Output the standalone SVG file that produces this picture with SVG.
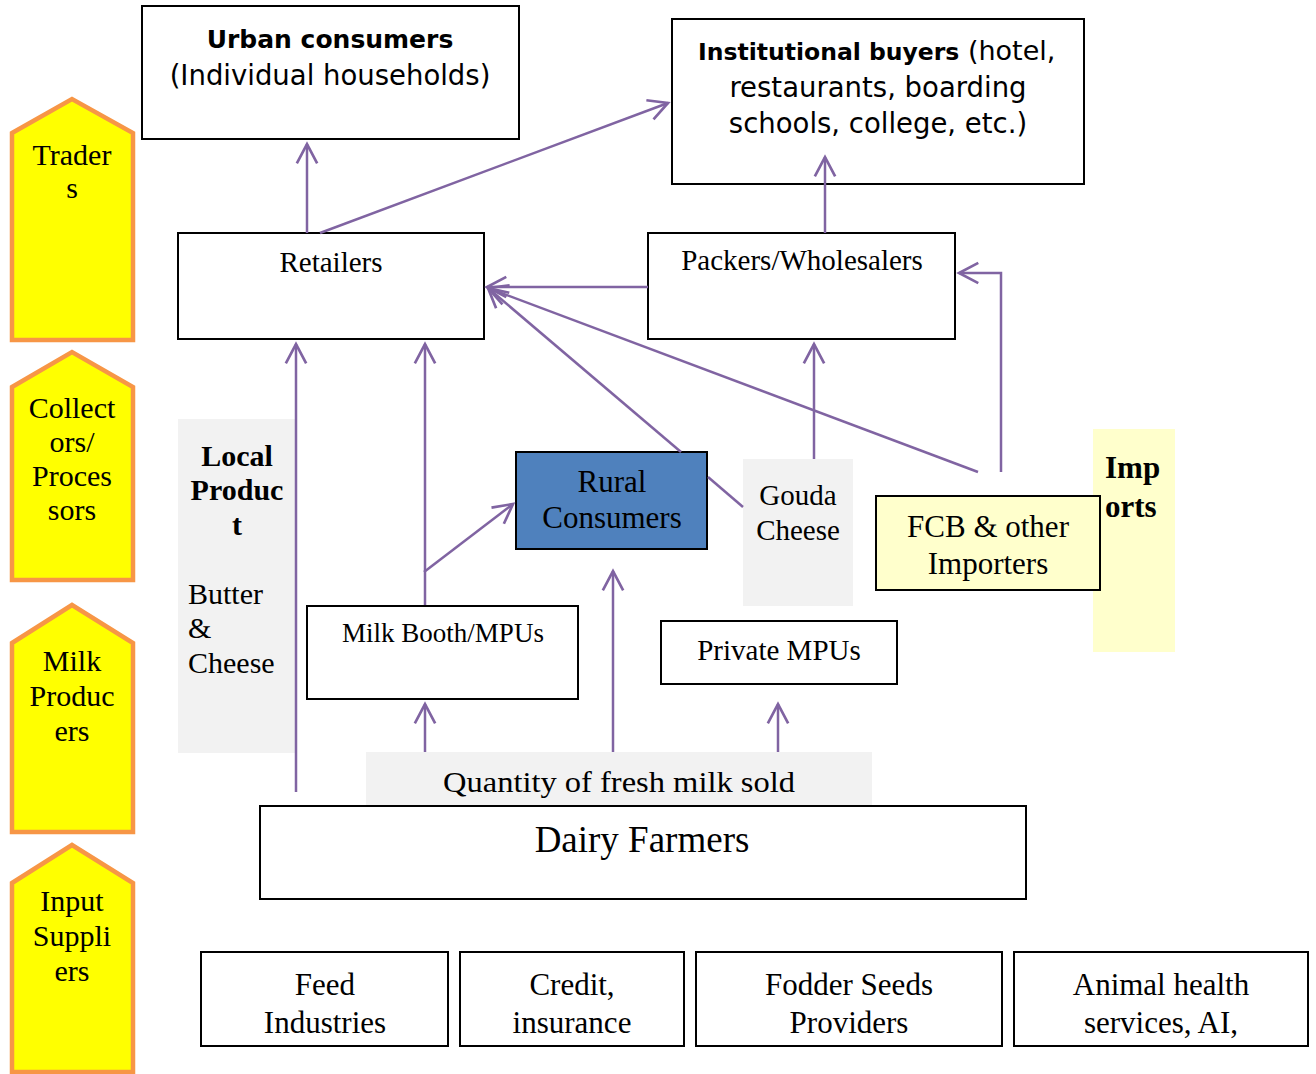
<svg xmlns="http://www.w3.org/2000/svg" width="1316" height="1074" viewBox="0 0 1316 1074">
<style>
.box{fill:#fff;stroke:#000;stroke-width:2}
.pent{fill:#ffff00;stroke:#f79646;stroke-width:4.5}
.gray{fill:#f2f2f2}
.ser{font-family:"Liberation Serif","Times New Roman",serif;fill:#000}
.san{font-family:"DejaVu Sans","Liberation Sans",sans-serif;fill:#000}
.c{text-anchor:middle}
.b{font-weight:bold}
.con{fill:none;stroke:#8064a2;stroke-width:2.5}
</style>
<defs>
<marker id="arr" markerUnits="userSpaceOnUse" markerWidth="30" markerHeight="30" viewBox="-22 -14 26 28" refX="0" refY="0" orient="auto" overflow="visible">
<path d="M-18,-9.5 L0,0 L-18,9.5" fill="none" stroke="#8064a2" stroke-width="2.5"/>
</marker>
</defs>

<g id="level-traders">
<polygon class="pent" points="12,133 72,99 133,133 133,340 12,340"/>
<text class="ser c" font-size="30" x="72"><tspan x="72" y="165">Trader</tspan><tspan x="72" y="198">s</tspan></text>
</g>
<g id="level-collectors">
<polygon class="pent" points="12,387 72,352 133,387 133,580 12,580"/>
<text class="ser c" font-size="30" x="72"><tspan x="72" y="418">Collect</tspan><tspan x="72" y="452">ors/</tspan><tspan x="72" y="486">Proces</tspan><tspan x="72" y="520">sors</tspan></text>
</g>
<g id="level-producers">
<polygon class="pent" points="12,643 72,605 133,643 133,832 12,832"/>
<text class="ser c" font-size="30" x="72"><tspan x="72" y="671">Milk</tspan><tspan x="72" y="706">Produc</tspan><tspan x="72" y="741">ers</tspan></text>
</g>
<g id="level-inputs">
<polygon class="pent" points="12,883 72,845 133,883 133,1072 12,1072"/>
<text class="ser c" font-size="30" x="72"><tspan x="72" y="911">Input</tspan><tspan x="72" y="946">Suppli</tspan><tspan x="72" y="981">ers</tspan></text>
</g>

<g id="local-product">
<rect class="gray" x="178" y="419" width="118" height="334"/>
<text class="ser c b" font-size="30"><tspan x="237" y="466">Local</tspan><tspan x="237" y="500">Produc</tspan><tspan x="237" y="535">t</tspan></text>
<text class="ser" font-size="30"><tspan x="188" y="604">Butter</tspan><tspan x="188" y="638">&amp;</tspan><tspan x="188" y="673">Cheese</tspan></text>
</g>

<g id="imports-band">
<rect x="1093" y="429" width="82" height="223" fill="#ffffcc"/>
<text class="ser b" font-size="31"><tspan x="1105" y="478">Imp</tspan><tspan x="1105" y="517">orts</tspan></text>
</g>

<g id="gouda">
<rect class="gray" x="743" y="459" width="110" height="147"/>
<text class="ser c" font-size="29"><tspan x="798" y="505">Gouda</tspan><tspan x="798" y="540">Cheese</tspan></text>
</g>

<g id="quantity">
<rect class="gray" x="366" y="752" width="506" height="54"/>
<text class="ser c" font-size="30" x="619" y="792" textLength="352" lengthAdjust="spacingAndGlyphs">Quantity of fresh milk sold</text>
</g>

<g id="urban-consumers">
<rect class="box" x="142" y="6" width="377" height="133"/>
<text class="san c b" font-size="25" x="330" y="48">Urban consumers</text>
<text class="san c" font-size="27.5" x="330" y="85">(Individual households)</text>
</g>

<g id="institutional-buyers">
<rect class="box" x="672" y="19" width="412" height="165"/>
<text class="san" y="60" x="698"><tspan font-weight="bold" font-size="23.5">Institutional buyers</tspan><tspan font-size="27"> (hotel,</tspan></text>
<text class="san c" font-size="27.5"><tspan x="878" y="97">restaurants, boarding</tspan><tspan x="878" y="133">schools, college, etc.)</tspan></text>
</g>

<g id="retailers">
<rect class="box" x="178" y="233" width="306" height="106"/>
<text class="ser c" font-size="29" x="331" y="272">Retailers</text>
</g>

<g id="packers">
<rect class="box" x="648" y="233" width="307" height="106"/>
<text class="ser c" font-size="29" x="802" y="270">Packers/Wholesalers</text>
</g>

<g id="rural-consumers">
<rect x="516" y="452" width="191" height="97" fill="#4f81bd" stroke="#000" stroke-width="2"/>
<text class="ser c" font-size="31"><tspan x="612" y="492">Rural</tspan><tspan x="612" y="528">Consumers</tspan></text>
</g>

<g id="fcb-importers">
<rect x="876" y="496" width="224" height="94" fill="#ffffcc" stroke="#000" stroke-width="2"/>
<text class="ser c" font-size="31"><tspan x="988" y="537">FCB &amp; other</tspan><tspan x="988" y="574">Importers</tspan></text>
</g>

<g id="milk-booth">
<rect class="box" x="307" y="606" width="271" height="93"/>
<text class="ser c" font-size="27" x="443" y="642">Milk Booth/MPUs</text>
</g>

<g id="private-mpus">
<rect class="box" x="661" y="621" width="236" height="63"/>
<text class="ser c" font-size="29" x="779" y="660">Private MPUs</text>
</g>

<g id="dairy-farmers">
<rect class="box" x="260" y="806" width="766" height="93"/>
<text class="ser c" font-size="37" x="642" y="852">Dairy Farmers</text>
</g>

<g id="feed">
<rect class="box" x="201" y="952" width="247" height="94"/>
<text class="ser c" font-size="31"><tspan x="325" y="995">Feed</tspan><tspan x="325" y="1033">Industries</tspan></text>
</g>
<g id="credit">
<rect class="box" x="460" y="952" width="224" height="94"/>
<text class="ser c" font-size="31"><tspan x="572" y="995">Credit,</tspan><tspan x="572" y="1033">insurance</tspan></text>
</g>
<g id="fodder">
<rect class="box" x="696" y="952" width="306" height="94"/>
<text class="ser c" font-size="31"><tspan x="849" y="995">Fodder Seeds</tspan><tspan x="849" y="1033">Providers</tspan></text>
</g>
<g id="animal-health">
<rect class="box" x="1014" y="952" width="294" height="94"/>
<text class="ser c" font-size="31"><tspan x="1161" y="995">Animal health</tspan><tspan x="1161" y="1033">services, AI,</tspan></text>
</g>

<g id="connectors">
<line class="con" x1="307" y1="233" x2="307" y2="144" marker-end="url(#arr)"/>
<line class="con" x1="320" y1="233" x2="668" y2="103" marker-end="url(#arr)"/>
<line class="con" x1="825" y1="233" x2="825" y2="157" marker-end="url(#arr)"/>
<line class="con" x1="648" y1="287" x2="487" y2="287" marker-end="url(#arr)"/>
<line class="con" x1="743" y1="507" x2="708" y2="477"/>
<line class="con" x1="681" y1="452" x2="488" y2="288" marker-end="url(#arr)"/>
<line class="con" x1="978" y1="472" x2="488" y2="288" marker-end="url(#arr)"/>
<line class="con" x1="814" y1="459" x2="814" y2="344" marker-end="url(#arr)"/>
<path class="con" d="M1001,472 V273 H959" marker-end="url(#arr)"/>
<line class="con" x1="296" y1="792" x2="296" y2="344" marker-end="url(#arr)"/>
<line class="con" x1="425" y1="605" x2="425" y2="344" marker-end="url(#arr)"/>
<line class="con" x1="424" y1="572" x2="513" y2="504" marker-end="url(#arr)"/>
<line class="con" x1="425" y1="752" x2="425" y2="704" marker-end="url(#arr)"/>
<line class="con" x1="613" y1="752" x2="613" y2="571" marker-end="url(#arr)"/>
<line class="con" x1="778" y1="752" x2="778" y2="704" marker-end="url(#arr)"/>
</g>
</svg>
